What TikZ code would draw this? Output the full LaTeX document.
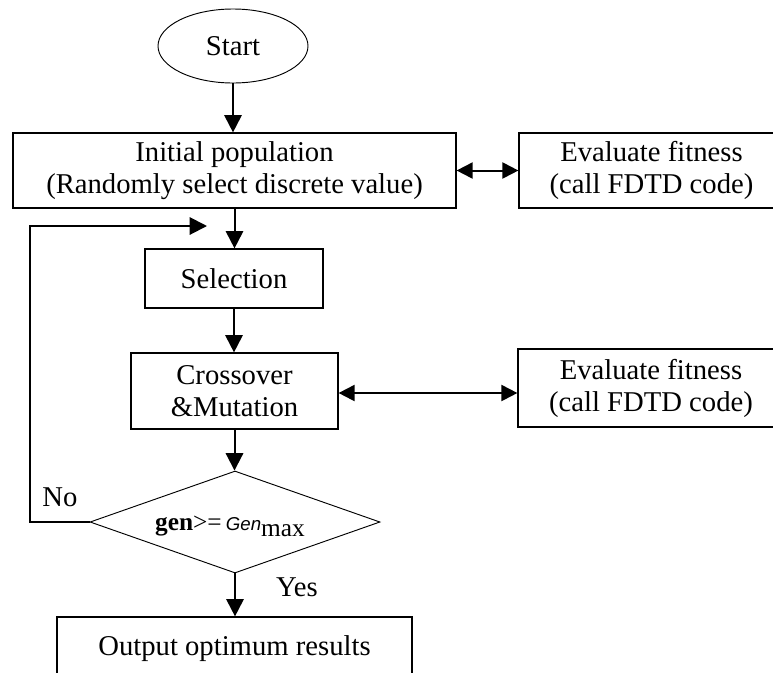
\documentclass[tikz,border=0pt]{standalone}
\usepackage{fontspec}
\setmainfont{Liberation Serif}
\newfontfamily\sansitfont{Liberation Sans}
\usetikzlibrary{arrows.meta,shapes.geometric}
\newcommand{\mainsize}{\fontsize{21.5}{24}\selectfont}
\tikzset{
  box/.style={draw, line width=0.9pt, inner sep=0pt, align=center, font=\mainsize},
  arr/.style={line width=1.5pt, -{Triangle[length=13pt,width=13pt]}},
  darr/.style={line width=1.5pt, {Triangle[length=12pt,width=12pt]}-{Triangle[length=12pt,width=12pt]}},
  lbl/.style={font=\mainsize, inner sep=0pt}
}
\begin{document}
\begin{tikzpicture}[x=0.75pt,y=-0.75pt]
\useasboundingbox (0,0) rectangle (773,672);
\node[draw, ellipse, line width=0.7pt, inner sep=0pt, minimum width=112.5pt, minimum height=55.5pt, font=\mainsize] (start) at (233,46) {Start};
\node[box, minimum width=332.25pt, minimum height=56.25pt] (init) at (234.5,170.5) {Initial population\\(Randomly select discrete value)};
\node[box, minimum width=198.75pt, minimum height=56.25pt] (eval1) at (651.5,170.5) {Evaluate fitness\\(call FDTD code)};
\node[box, minimum width=133.5pt, minimum height=44.25pt] (sel) at (234,278.5) {Selection};
\node[box, minimum width=155.25pt, minimum height=57pt] (cross) at (234.5,391) {Crossover\\\&Mutation};
\node[box, minimum width=199.5pt, minimum height=58.5pt] (eval2) at (651,388) {Evaluate fitness\\(call FDTD code)};
\node[draw, diamond, line width=0.7pt, inner sep=0pt, minimum width=217.5pt, minimum height=76.5pt] (dia) at (235,522) {};
\node[anchor=base, inner sep=0pt, font=\fontsize{19}{22}\selectfont] (diatext) at (230,530) {\textbf{gen}>=\,{\sansitfont\itshape\fontsize{14}{16}\selectfont Gen}\raisebox{-5pt}{max}};
\node[box, minimum width=266.25pt, minimum height=48pt] (out) at (234.5,649) {Output optimum results};
\node[lbl] (no) at (60,497) {No};
\node[lbl] (yes) at (297,587) {Yes};
\coordinate (fb) at (207,226);
\draw[arr] (start.south) -- (start.south |- init.north);
\draw[arr] (init.south) -- (init.south |- sel.north);
\draw[arr] (sel.south) -- (sel.south |- cross.north);
\draw[arr] (cross.south) -- (cross.south |- dia.north);
\draw[arr] (dia.south) -- (dia.south |- out.north);
\draw[darr] (init.east) -- (init.east -| eval1.west);
\draw[darr] ([yshift=-1.5pt]cross.east) -- ([yshift=-1.5pt]cross.east -| eval2.west);
\draw[arr] (dia.west) -- ++(-60,0) |- (fb);
\end{tikzpicture}
\end{document}
